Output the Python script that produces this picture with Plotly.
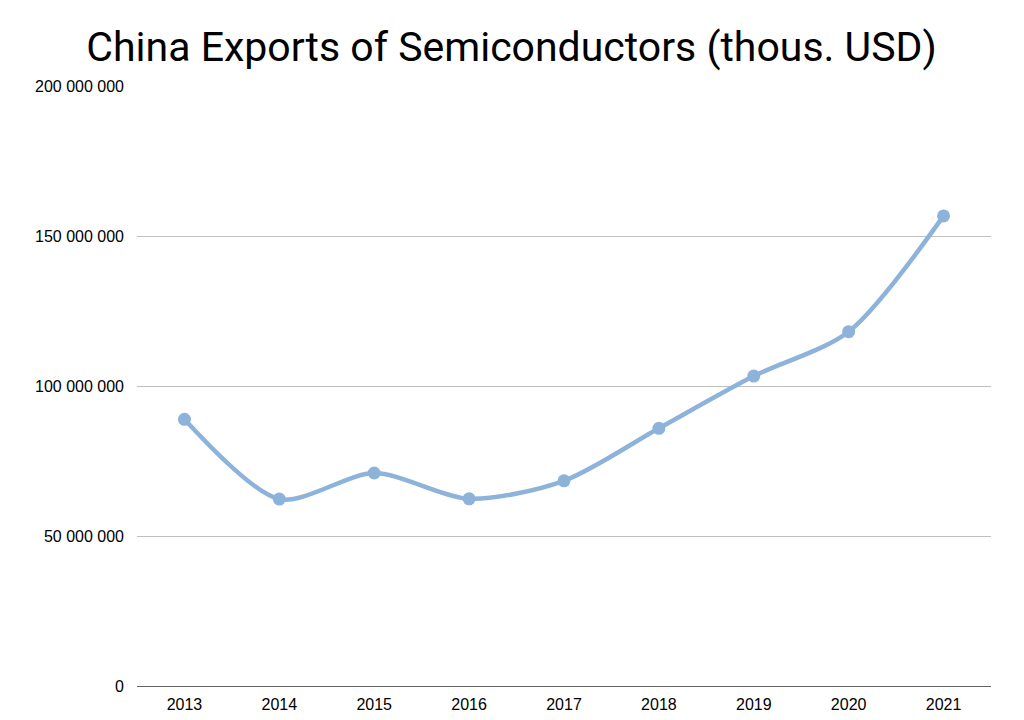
import plotly.graph_objects as go

years = ["2013", "2014", "2015", "2016", "2017", "2018", "2019", "2020", "2021"]
exports = [88_900_000, 62_300_000, 71_000_000, 62_400_000, 68_400_000,
           85_900_000, 103_300_000, 118_100_000, 156_700_000]
tick_vals = [0, 50_000_000, 100_000_000, 150_000_000, 200_000_000]
tick_text = ["0", "50 000 000", "100 000 000", "150 000 000", "200 000 000"]

fig = go.Figure()
fig.add_trace(go.Scatter(
    x=years, y=exports, mode="lines+markers",
    line=dict(color="#8db3da", width=4.5, shape="spline", smoothing=0.8),
    marker=dict(color="#8db3da", size=13),
    hoverinfo="x+y",
))

fig.update_layout(
    width=1024, height=720,
    margin=dict(l=129, r=41, t=78, b=42),
    paper_bgcolor="white", plot_bgcolor="white",
    showlegend=False,
    title=dict(text="China Exports of Semiconductors (thous. USD)",
               x=0.4917, xanchor="center", y=0.946, yanchor="middle",
               font=dict(family="Roboto", size=41, color="#000000")),
    font=dict(family="Liberation Sans, Arial", size=16, color="#000000"),
)
fig.update_xaxes(type="category", range=[-0.5, 8.5], showgrid=False,
                 showline=True, linecolor="#666666", linewidth=1,
                 ticks="", ticklabelstandoff=4, tickfont=dict(size=16, color="#000000"))
fig.update_yaxes(range=[0, 200_000_000], tickvals=tick_vals, ticktext=tick_text,
                 showgrid=True, gridcolor="#c0c0c0", gridwidth=1,
                 zeroline=False, showline=False, ticks="", ticklabelstandoff=12,
                 tickfont=dict(size=16, color="#000000"))

fig.write_html("out.html")
